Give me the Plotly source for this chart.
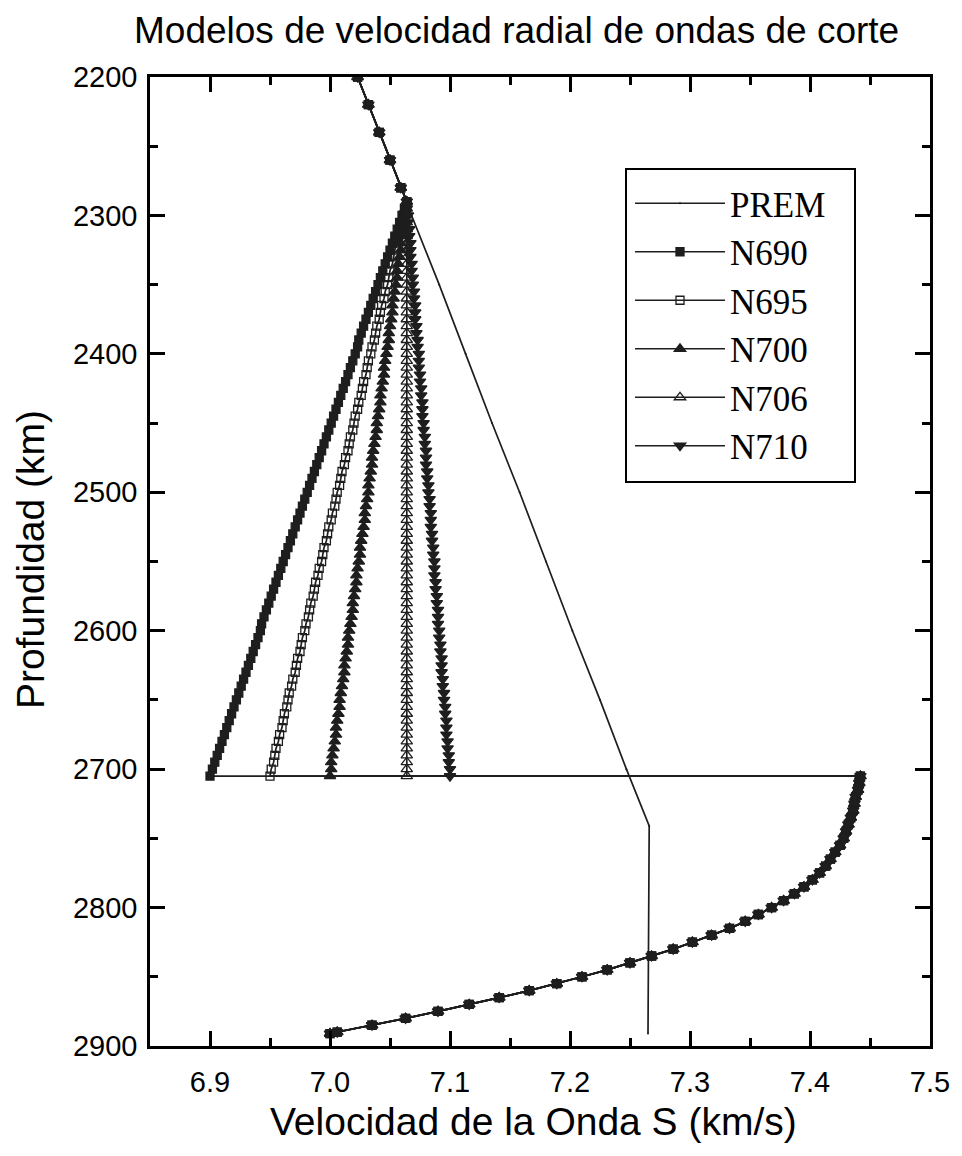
import plotly.graph_objects as go

# ---------------- data ----------------
prem_depth = [2200, 2250, 2300, 2350, 2400, 2450, 2500, 2550, 2600, 2650, 2700, 2741, 2891]
prem_vs = [7.023, 7.046, 7.068, 7.091, 7.113, 7.135, 7.158, 7.180, 7.202, 7.225, 7.247, 7.266, 7.265]

# shared upper section (PREM values) of the N models
top_depth = [2200, 2220, 2240, 2260, 2280]
top_vs = [7.023, 7.032, 7.041, 7.050, 7.059]

# gradient zone 2290-2705 km
grad_depth = [2290, 2295, 2300, 2305, 2310, 2315, 2320, 2325, 2330, 2335,
              2340, 2345, 2350, 2355, 2360, 2365, 2370, 2375, 2380, 2385,
              2390, 2395, 2400, 2405, 2410, 2415, 2420, 2425, 2430, 2435,
              2440, 2445, 2450, 2455, 2460, 2465, 2470, 2475, 2480, 2485,
              2490, 2495, 2500, 2505, 2510, 2515, 2520, 2525, 2530, 2535,
              2540, 2545, 2550, 2555, 2560, 2565, 2570, 2575, 2580, 2585,
              2590, 2595, 2600, 2605, 2610, 2615, 2620, 2625, 2630, 2635,
              2640, 2645, 2650, 2655, 2660, 2665, 2670, 2675, 2680, 2685,
              2690, 2695, 2700, 2705]

n690_vs = [7.064, 7.062, 7.060, 7.058, 7.056, 7.054, 7.052, 7.050, 7.048, 7.046,
           7.044, 7.042, 7.040, 7.038, 7.036, 7.034, 7.032, 7.030, 7.028, 7.026,
           7.024, 7.023, 7.021, 7.019, 7.017, 7.015, 7.013, 7.011, 7.009, 7.007,
           7.005, 7.003, 7.001, 6.999, 6.997, 6.995, 6.993, 6.991, 6.989, 6.987,
           6.985, 6.983, 6.981, 6.979, 6.977, 6.975, 6.973, 6.971, 6.969, 6.967,
           6.965, 6.963, 6.961, 6.959, 6.957, 6.955, 6.953, 6.951, 6.949, 6.947,
           6.945, 6.943, 6.942, 6.940, 6.938, 6.936, 6.934, 6.932, 6.930, 6.928,
           6.926, 6.924, 6.922, 6.920, 6.918, 6.916, 6.914, 6.912, 6.910, 6.908,
           6.906, 6.904, 6.902, 6.900]

n695_vs = [7.064, 7.063, 7.061, 7.060, 7.059, 7.057, 7.056, 7.054, 7.053, 7.052,
           7.050, 7.049, 7.048, 7.046, 7.045, 7.043, 7.042, 7.041, 7.039, 7.038,
           7.037, 7.035, 7.034, 7.032, 7.031, 7.030, 7.028, 7.027, 7.026, 7.024,
           7.023, 7.021, 7.020, 7.019, 7.017, 7.016, 7.015, 7.013, 7.012, 7.010,
           7.009, 7.008, 7.006, 7.005, 7.004, 7.002, 7.001, 6.999, 6.998, 6.997,
           6.995, 6.994, 6.993, 6.991, 6.990, 6.988, 6.987, 6.986, 6.984, 6.983,
           6.982, 6.980, 6.979, 6.977, 6.976, 6.975, 6.973, 6.972, 6.971, 6.969,
           6.968, 6.966, 6.965, 6.964, 6.962, 6.961, 6.960, 6.958, 6.957, 6.955,
           6.954, 6.953, 6.951, 6.950]

n700_vs = [7.064, 7.063, 7.062, 7.062, 7.061, 7.060, 7.059, 7.059, 7.058, 7.057,
           7.056, 7.056, 7.055, 7.054, 7.053, 7.052, 7.052, 7.051, 7.050, 7.049,
           7.049, 7.048, 7.047, 7.046, 7.045, 7.045, 7.044, 7.043, 7.042, 7.042,
           7.041, 7.040, 7.039, 7.039, 7.038, 7.037, 7.036, 7.035, 7.035, 7.034,
           7.033, 7.032, 7.032, 7.031, 7.030, 7.029, 7.029, 7.028, 7.027, 7.026,
           7.025, 7.025, 7.024, 7.023, 7.022, 7.022, 7.021, 7.020, 7.019, 7.019,
           7.018, 7.017, 7.016, 7.015, 7.015, 7.014, 7.013, 7.012, 7.012, 7.011,
           7.010, 7.009, 7.008, 7.008, 7.007, 7.006, 7.005, 7.005, 7.004, 7.003,
           7.002, 7.001, 7.001, 7.000]

n706_vs = [7.064, 7.064, 7.064, 7.064, 7.064, 7.064, 7.064, 7.064, 7.064, 7.064,
           7.064, 7.064, 7.064, 7.064, 7.064, 7.064, 7.064, 7.064, 7.064, 7.064,
           7.064, 7.064, 7.064, 7.064, 7.064, 7.064, 7.064, 7.064, 7.064, 7.064,
           7.064, 7.064, 7.064, 7.064, 7.064, 7.064, 7.064, 7.064, 7.064, 7.064,
           7.064, 7.064, 7.064, 7.064, 7.064, 7.064, 7.064, 7.064, 7.064, 7.064,
           7.064, 7.064, 7.064, 7.064, 7.064, 7.064, 7.064, 7.064, 7.064, 7.064,
           7.064, 7.064, 7.064, 7.064, 7.064, 7.064, 7.064, 7.064, 7.064, 7.064,
           7.064, 7.064, 7.064, 7.064, 7.064, 7.064, 7.064, 7.064, 7.064, 7.064,
           7.064, 7.064, 7.064, 7.064]

n710_vs = [7.064, 7.064, 7.065, 7.065, 7.066, 7.066, 7.067, 7.067, 7.067, 7.068,
           7.068, 7.069, 7.069, 7.070, 7.070, 7.071, 7.071, 7.071, 7.072, 7.072,
           7.073, 7.073, 7.074, 7.074, 7.074, 7.075, 7.075, 7.076, 7.076, 7.077,
           7.077, 7.077, 7.078, 7.078, 7.079, 7.079, 7.080, 7.080, 7.080, 7.081,
           7.081, 7.082, 7.082, 7.083, 7.083, 7.084, 7.084, 7.084, 7.085, 7.085,
           7.086, 7.086, 7.087, 7.087, 7.087, 7.088, 7.088, 7.089, 7.089, 7.090,
           7.090, 7.090, 7.091, 7.091, 7.092, 7.092, 7.093, 7.093, 7.093, 7.094,
           7.094, 7.095, 7.095, 7.096, 7.096, 7.097, 7.097, 7.097, 7.098, 7.098,
           7.099, 7.099, 7.100, 7.100]

# shared D'' section 2705-2891 km
base_depth = [2705, 2710, 2715, 2720, 2725, 2730, 2735, 2740, 2745, 2750,
              2755, 2760, 2765, 2770, 2775, 2780, 2785, 2790, 2795, 2800,
              2805, 2810, 2815, 2820, 2825, 2830, 2835, 2840, 2845, 2850,
              2855, 2860, 2865, 2870, 2875, 2880, 2885, 2890, 2891]
base_vs = [7.442, 7.441, 7.440, 7.438, 7.437, 7.436, 7.434, 7.432, 7.430, 7.428,
           7.425, 7.421, 7.417, 7.413, 7.408, 7.402, 7.395, 7.387, 7.378, 7.368,
           7.357, 7.346, 7.333, 7.318, 7.302, 7.286, 7.268, 7.250, 7.231, 7.210,
           7.189, 7.166, 7.141, 7.116, 7.090, 7.063, 7.035, 7.006, 7.000]

model_names = ["N690", "N695", "N700", "N706", "N710"]
model_vs = [n690_vs, n695_vs, n700_vs, n706_vs, n710_vs]
model_symbols = ["square", "square-open", "triangle-up", "triangle-up-open", "triangle-down"]

x_ticks = [6.9, 7.0, 7.1, 7.2, 7.3, 7.4, 7.5]
y_ticks = [2200, 2300, 2400, 2500, 2600, 2700, 2800, 2900]

LINE = "#1e1e1e"
SANS = "Liberation Sans, Arial, sans-serif"
SERIF = "Liberation Serif, Times New Roman, serif"

fig = go.Figure()
fig.add_trace(go.Scatter(
    x=prem_vs, y=prem_depth, name="PREM", mode="lines+markers",
    line=dict(color=LINE, width=1.7),
    marker=dict(symbol="circle", size=2, color=LINE),
))
for name, vs, sym in zip(model_names, model_vs, model_symbols):
    size = 8 if "square" in sym else 10
    fig.add_trace(go.Scatter(
        x=top_vs + vs + base_vs, y=top_depth + grad_depth + base_depth,
        name=name, mode="lines+markers",
        line=dict(color=LINE, width=1.7),
        marker=dict(symbol=sym, size=size, color=LINE,
                    line=dict(color=LINE, width=1.3)),
    ))

axis_common = dict(
    showline=True, linecolor="black", linewidth=2.5, mirror="allticks",
    ticks="inside", ticklen=15, tickwidth=2.5, tickcolor="black",
    showgrid=False, zeroline=False,
    tickfont=dict(family=SANS, size=29, color="black"),
)

fig.update_layout(
    width=962, height=1156,
    margin=dict(l=150, r=32, t=77, b=110),
    paper_bgcolor="white", plot_bgcolor="white",
    title=dict(text="Modelos de velocidad radial de ondas de corte",
               x=0.537, xref="container", xanchor="center", y=0.974, yanchor="middle",
               font=dict(family=SANS, size=37, color="black")),
    xaxis=dict(range=[6.85, 7.5], tickvals=x_ticks, ticktext=[f"{v:.1f}" for v in x_ticks],
               minor=dict(dtick=0.05, tick0=6.85, ticks="inside", ticklen=8, tickwidth=2.5,
                          tickcolor="black", showgrid=False),
               ticklabelstandoff=8,
               **axis_common),
    yaxis=dict(range=[2900, 2200], tickvals=y_ticks,
               minor=dict(dtick=50, tick0=2200, ticks="inside", ticklen=8, tickwidth=2.5,
                          tickcolor="black", showgrid=False),
               ticklabelstandoff=4,
               **axis_common),
    legend=dict(x=(630 - 150) / 780, y=(1046 - 174) / 969, xanchor="left", yanchor="top",
                borderwidth=0, bgcolor="rgba(0,0,0,0)",
                font=dict(family=SERIF, size=35, color="black"),
                itemwidth=90, tracegroupgap=0),
    showlegend=True,
    shapes=[dict(type="rect", xref="paper", yref="paper",
                 x0=(626 - 150) / 780, x1=(855 - 150) / 780,
                 y0=(1046 - 482) / 969, y1=(1046 - 169) / 969,
                 line=dict(color="black", width=2), fillcolor="white", layer="below")],
    annotations=[
        dict(text="Velocidad de la Onda S (km/s)", xref="paper", yref="paper",
             x=0.492, y=-0.0784, xanchor="center", yanchor="middle", showarrow=False,
             font=dict(family=SANS, size=39, color="black")),
        dict(text="Profundidad (km)", xref="paper", yref="paper",
             x=-0.1538, y=0.5015, xanchor="center", yanchor="middle", showarrow=False,
             textangle=-90,
             font=dict(family=SANS, size=39, color="black")),
    ],
)

fig.write_html("out.html")
